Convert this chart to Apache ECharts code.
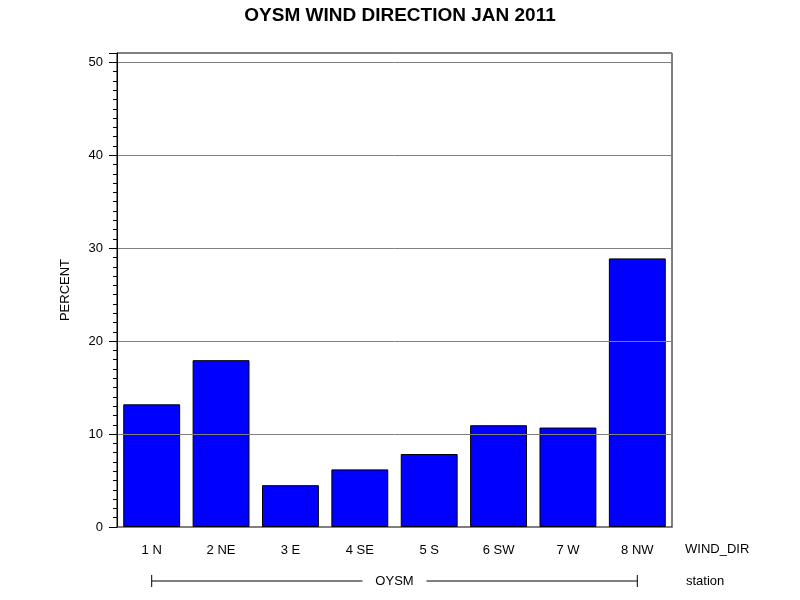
<!DOCTYPE html>
<html>
<head>
<meta charset="utf-8">
<script src="https://cdn.jsdelivr.net/npm/echarts@6/dist/echarts.min.js"></script>
<style>
  html, body { margin: 0; padding: 0; background: #fff; }
  #main { width: 800px; height: 600px; }
</style>
</head>
<body>
<div id="main"></div>
<script>
var categories = ['1 N', '2 NE', '3 E', '4 SE', '5 S', '6 SW', '7 W', '8 NW'];
var percent = [13.2, 17.95, 4.5, 6.2, 7.85, 10.95, 10.7, 28.9];
var stationName = 'OYSM';

var font = 'Liberation Sans, Arial, sans-serif';
var myChart = echarts.init(document.getElementById('main'));

myChart.setOption({
    backgroundColor: '#fff',
    animation: false,
    title: {
        text: 'OYSM WIND DIRECTION JAN 2011',
        left: 'center',
        top: 1,
        textStyle: { fontFamily: font, fontSize: 19, fontWeight: 'bold', color: '#000' }
    },
    grid: {
        left: 117, right: 128, top: 53, bottom: 73,
        show: true, borderColor: '#000', borderWidth: 1
    },
    xAxis: {
        type: 'category',
        data: categories,
        name: 'WIND_DIR',
        nameLocation: 'end',
        nameGap: 13,
        nameTextStyle: { fontFamily: font, fontSize: 13, color: '#000', align: 'left', verticalAlign: 'top', padding: [16, 0, 0, 0] },
        axisLine: { lineStyle: { color: '#000', width: 1 } },
        axisTick: { show: false },
        axisLabel: { fontFamily: font, fontSize: 13, color: '#000', margin: 17 },
        splitLine: { show: false }
    },
    yAxis: {
        type: 'value',
        min: 0, max: 51, interval: 10,
        z: 5, // grid lines over the bars
        name: 'PERCENT',
        nameLocation: 'middle',
        nameRotate: 90,
        nameGap: 45,
        nameTextStyle: { fontFamily: font, fontSize: 13, color: '#000' },
        axisLine: { show: true, lineStyle: { color: '#000', width: 1 } },
        axisTick: { show: true, length: 8, lineStyle: { color: '#000' } },
        minorTick: { show: true, splitNumber: 10, length: 4, lineStyle: { color: '#000' } },
        axisLabel: {
            fontFamily: font, fontSize: 13, color: '#000', margin: 14,
            showMaxLabel: false
        },
        splitLine: { show: true, lineStyle: { color: '#808080', width: 1 } }
    },
    series: [{
        name: 'PERCENT',
        type: 'bar',
        data: percent,
        barCategoryGap: '18%',
        itemStyle: { color: '#0000ff', borderColor: '#000', borderWidth: 1 }
    }]
});

// station bracket under the category labels
var x1 = myChart.convertToPixel({ xAxisIndex: 0 }, categories[0]);
var x2 = myChart.convertToPixel({ xAxisIndex: 0 }, categories[categories.length - 1]);
var xm = (x1 + x2) / 2;
var yb = 581;
var gapHalf = 32;
myChart.setOption({
    graphic: [
        { type: 'line', shape: { x1: x1, y1: yb, x2: xm - gapHalf, y2: yb }, style: { stroke: '#000', lineWidth: 1 } },
        { type: 'line', shape: { x1: xm + gapHalf, y1: yb, x2: x2, y2: yb }, style: { stroke: '#000', lineWidth: 1 } },
        { type: 'line', shape: { x1: x1, y1: yb - 6, x2: x1, y2: yb + 6 }, style: { stroke: '#000', lineWidth: 1 } },
        { type: 'line', shape: { x1: x2, y1: yb - 6, x2: x2, y2: yb + 6 }, style: { stroke: '#000', lineWidth: 1 } },
        { type: 'text', x: xm, y: yb, style: { text: stationName, fontFamily: font, fontSize: 13, fill: '#000', align: 'center', verticalAlign: 'middle' } },
        { type: 'text', x: 686, y: yb, style: { text: 'station', fontFamily: font, fontSize: 13, fill: '#000', align: 'left', verticalAlign: 'middle' } }
    ]
});
</script>
</body>
</html>
